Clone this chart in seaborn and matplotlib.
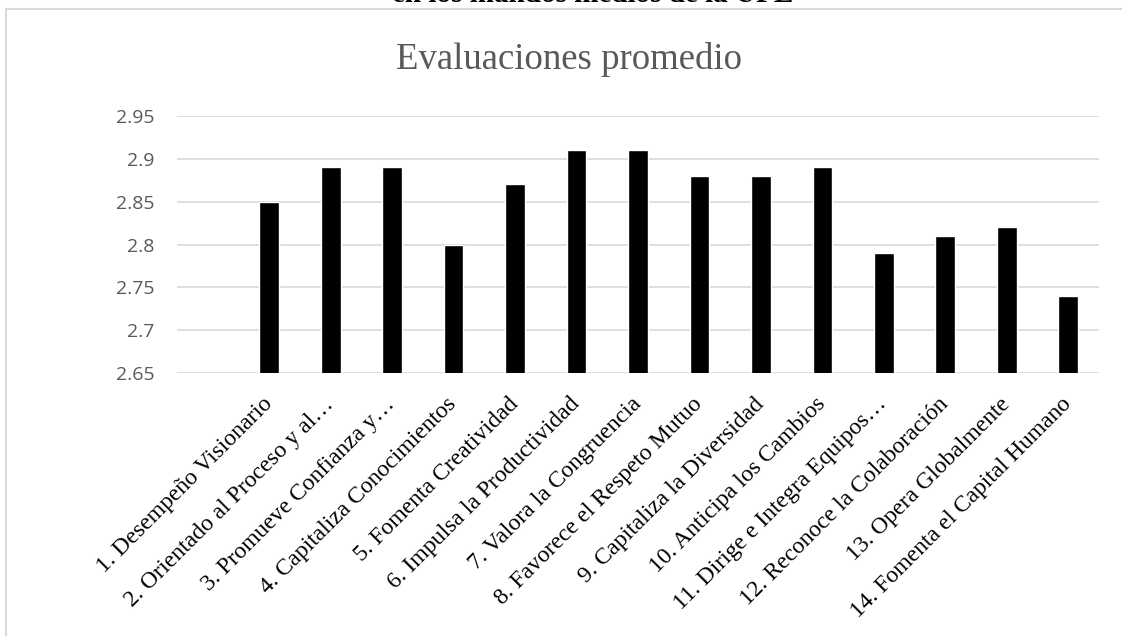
import matplotlib
matplotlib.use("Agg")
import matplotlib.pyplot as plt
import matplotlib.patches as patches
import seaborn as sns

# Data
categorias = [
    "1. Desempeño Visionario",
    "2. Orientado al Proceso y al…",
    "3. Promueve Confianza y…",
    "4. Capitaliza Conocimientos",
    "5. Fomenta Creatividad",
    "6. Impulsa la Productividad",
    "7. Valora la Congruencia",
    "8. Favorece el Respeto Mutuo",
    "9. Capitaliza la Diversidad",
    "10. Anticipa los Cambios",
    "11. Dirige e Integra Equipos…",
    "12. Reconoce la Colaboración",
    "13. Opera Globalmente",
    "14. Fomenta el Capital Humano",
]
promedios = [2.85, 2.89, 2.89, 2.80, 2.87, 2.91, 2.91, 2.88, 2.88, 2.89, 2.79, 2.81, 2.82, 2.74]
y_ticks = [2.65, 2.7, 2.75, 2.8, 2.85, 2.9, 2.95]
y_labels = ["2.65", "2.7", "2.75", "2.8", "2.85", "2.9", "2.95"]

# Styling
sns.set_style("white")
plt.rcParams['font.family'] = ['Liberation Serif', 'DejaVu Serif']

GRIS_TXT = '#595959'
GRIS_LIN = '#D9D9D9'

W, H = 1122, 636
fig = plt.figure(figsize=(W / 100, H / 100), dpi=100)
ax = fig.add_axes([177 / W, 1 - 373.3 / H, (1099 - 177) / W, (373.3 - 115.7) / H])

sns.barplot(x=categorias, y=promedios, color='black', width=0.32,
            saturation=1, ax=ax, zorder=3)

ax.set_ylim(2.65, 2.95)
ax.set_xlim(-1.5, len(categorias) - 0.5)
ax.set_yticks(y_ticks)
ax.set_yticklabels(y_labels, family='Open Sans', fontsize=14, color=GRIS_TXT)
ax.yaxis.grid(True, color=GRIS_LIN, linewidth=1.2, zorder=0)
ax.set_axisbelow(True)
for s in ax.spines.values():
    s.set_visible(False)
ax.tick_params(axis='y', length=0, pad=16)
ax.tick_params(axis='x', length=0, pad=20)
ax.set_xlabel("")
ax.set_ylabel("")
for lab in ax.get_xticklabels():
    lab.set_rotation(45)
    lab.set_ha('right')
    lab.set_va('center')
    lab.set_rotation_mode('anchor')
    lab.set_fontsize(17)
    lab.set_color('black')

# Chart title
fig.text(569.5 / W, 1 - 69 / H, "Evaluaciones promedio", ha='center', va='baseline',
         fontsize=26.5, color=GRIS_TXT)

# Cropped caption above the chart frame (cut off in the reference too)
fig.text(593 / W, 1 - 1.5 / H, "en los mandos medios de la UPE", ha='center', va='baseline',
         fontsize=21, fontweight='bold', color='black')

# Chart frame
marco = patches.Rectangle((5.5 / W, -0.05), 1.1, 1.05 - 9 / H, transform=fig.transFigure,
                          fill=False, edgecolor=GRIS_LIN, linewidth=1.5)
fig.patches.append(marco)

fig.savefig("out.png", dpi=100)
